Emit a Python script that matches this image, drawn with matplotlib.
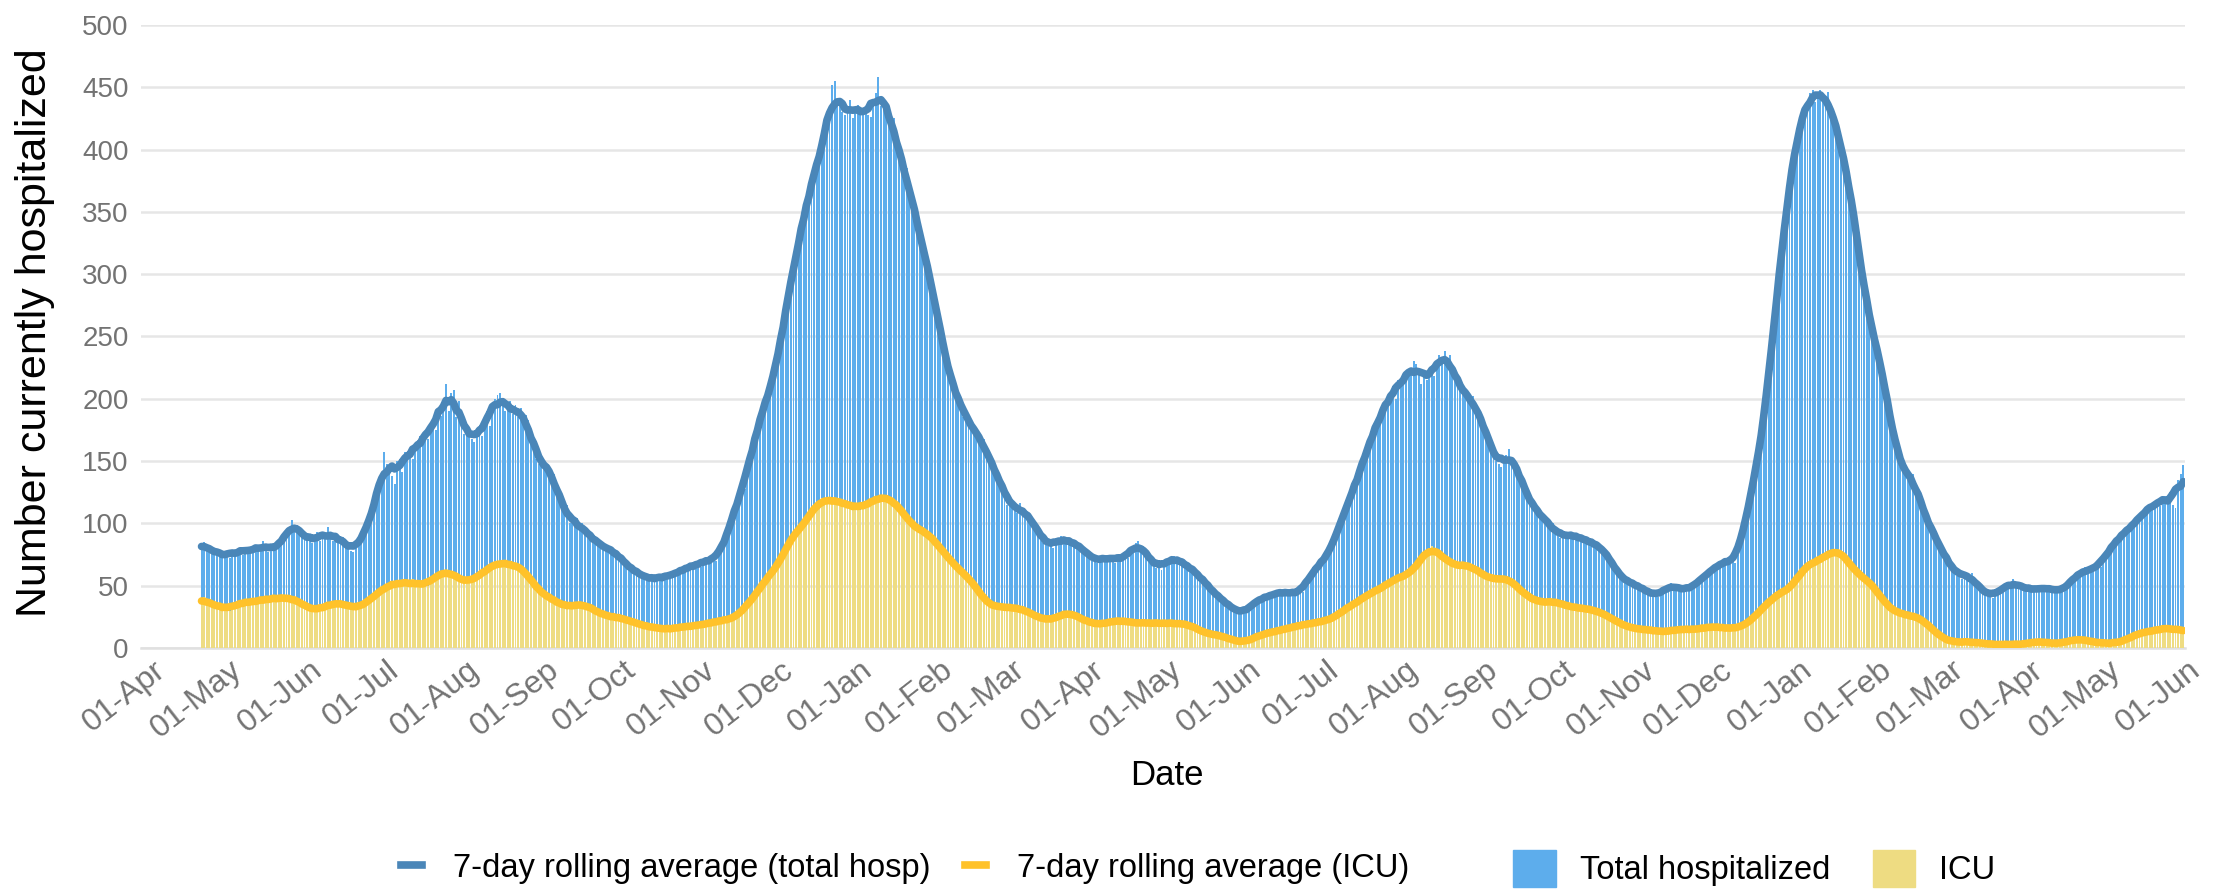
import matplotlib
matplotlib.use('Agg')
import matplotlib.pyplot as plt
import matplotlib.dates as mdates
import matplotlib.transforms as mtransforms
from matplotlib.lines import Line2D
from matplotlib.patches import Patch
import pandas as pd

# daily values, first day 2020-04-24
start_date = '2020-04-24'
total_hosp = [
    83, 85, 80, 78, 81, 76, 75, 74, 78, 77, 73, 72, 76, 79,
    77, 80, 75, 78, 81, 76, 80, 78, 82, 79, 86, 80, 77, 83,
    80, 79, 82, 84, 88, 92, 96, 103, 97, 99, 92, 94, 88, 86,
    88, 84, 90, 93, 86, 91, 89, 97, 88, 86, 92, 90, 85, 89,
    80, 84, 78, 77, 80, 86, 88, 90, 96, 100, 108, 112, 123, 128,
    140, 157, 148, 145, 138, 132, 150, 152, 141, 157, 155, 160, 152, 163,
    160, 170, 165, 172, 168, 180, 184, 175, 193, 186, 198, 212, 190, 205,
    207, 185, 198, 178, 172, 180, 170, 168, 165, 170, 176, 170, 185, 190,
    178, 195, 200, 203, 205, 196, 190, 192, 198, 188, 195, 185, 193, 180,
    187, 183, 170, 160, 152, 148, 152, 150, 143, 145, 138, 140, 125, 120,
    112, 110, 115, 100, 102, 98, 104, 95, 100, 92, 90, 93, 86, 88,
    84, 80, 85, 78, 82, 75, 80, 77, 74, 70, 72, 65, 67, 62,
    64, 58, 62, 57, 60, 55, 54, 58, 53, 56, 59, 55, 60, 57,
    55, 61, 58, 63, 60, 66, 62, 65, 63, 68, 66, 70, 65, 71,
    68, 72, 70, 74, 70, 76, 80, 82, 92, 96, 100, 112, 115, 125,
    130, 128, 145, 150, 160, 168, 180, 178, 195, 192, 210, 205, 220, 218,
    230, 250, 255, 275, 285, 290, 312, 310, 330, 328, 350, 355, 370, 368,
    385, 380, 398, 405, 410, 415, 430, 452, 455, 438, 435, 430, 428, 432,
    440, 425, 432, 436, 428, 430, 434, 428, 426, 438, 445, 458, 435, 436,
    438, 430, 420, 425, 402, 395, 392, 378, 385, 368, 360, 350, 340, 335,
    325, 315, 305, 295, 290, 280, 265, 255, 245, 235, 222, 215, 210, 200,
    205, 198, 185, 190, 178, 180, 172, 176, 170, 165, 168, 155, 150, 145,
    148, 140, 135, 130, 125, 115, 118, 112, 115, 108, 116, 110, 105, 108,
    107, 98, 100, 94, 90, 84, 86, 82, 85, 80, 88, 84, 90, 86,
    88, 84, 87, 82, 85, 80, 83, 76, 78, 73, 70, 74, 68, 72,
    70, 73, 71, 75, 72, 68, 74, 70, 73, 75, 72, 80, 78, 84,
    86, 80, 82, 72, 75, 68, 70, 64, 66, 63, 70, 68, 72, 70,
    74, 70, 72, 66, 70, 65, 66, 60, 63, 58, 60, 54, 52, 48,
    50, 44, 45, 40, 41, 36, 37, 35, 33, 30, 32, 28, 27, 30,
    29, 33, 35, 34, 40, 38, 42, 39, 42, 40, 44, 42, 45, 46,
    44, 47, 43, 42, 45, 43, 46, 47, 45, 52, 55, 57, 65, 63,
    68, 66, 72, 70, 80, 78, 88, 92, 95, 105, 106, 118, 115, 126,
    130, 135, 142, 150, 148, 162, 170, 165, 178, 185, 182, 195, 190, 200,
    205, 210, 200, 215, 212, 220, 215, 218, 225, 230, 228, 220, 212, 222,
    215, 220, 225, 218, 228, 235, 232, 238, 230, 235, 222, 218, 210, 212,
    205, 208, 200, 198, 202, 190, 188, 185, 182, 175, 165, 160, 158, 150,
    148, 145, 150, 155, 160, 148, 150, 148, 142, 130, 128, 120, 122, 112,
    115, 108, 110, 104, 102, 100, 98, 100, 94, 90, 88, 92, 89, 93,
    90, 92, 88, 90, 86, 89, 85, 88, 84, 85, 80, 84, 78, 80,
    75, 72, 70, 64, 60, 58, 55, 57, 52, 54, 50, 53, 48, 50,
    46, 48, 44, 45, 42, 43, 41, 45, 47, 46, 50, 52, 49, 48,
    50, 46, 45, 48, 47, 50, 52, 50, 55, 54, 58, 60, 62, 64,
    62, 68, 65, 70, 68, 72, 70, 72, 68, 75, 82, 95, 105, 115,
    125, 130, 140, 155, 170, 185, 198, 215, 240, 260, 282, 300, 320, 335,
    360, 368, 385, 400, 415, 425, 420, 430, 440, 445, 448, 438, 445, 448,
    442, 440, 446, 432, 425, 418, 415, 402, 395, 385, 370, 365, 345, 330,
    325, 305, 285, 270, 262, 258, 252, 240, 235, 218, 212, 195, 188, 175,
    168, 150, 145, 150, 140, 135, 138, 140, 128, 125, 115, 110, 108, 98,
    95, 92, 85, 88, 80, 75, 70, 68, 62, 65, 58, 62, 55, 60,
    58, 56, 60, 52, 50, 48, 45, 46, 42, 44, 40, 45, 43, 48,
    47, 50, 52, 50, 55, 50, 48, 52, 47, 50, 46, 48, 45, 49,
    46, 48, 50, 47, 49, 45, 48, 46, 44, 48, 47, 50, 52, 55,
    58, 60, 62, 58, 65, 60, 64, 62, 66, 68, 65, 72, 75, 80,
    78, 84, 86, 90, 88, 95, 92, 98, 96, 102, 100, 105, 108, 110,
    112, 110, 115, 118, 116, 114, 120, 122, 118, 125, 115, 112, 135, 140,
    147,
]
icu = [
    39, 41, 36, 35, 37, 33, 34, 32, 35, 31, 33, 30, 34, 33,
    36, 38, 34, 38, 37, 35, 39, 36, 40, 37, 38, 41, 39, 38,
    41, 39, 40, 42, 38, 41, 40, 40, 38, 39, 36, 37, 33, 34,
    30, 32, 31, 29, 33, 32, 34, 35, 33, 36, 37, 34, 36, 37,
    35, 33, 32, 34, 31, 33, 35, 34, 38, 36, 40, 42, 43, 46,
    45, 50, 48, 51, 49, 53, 52, 54, 50, 53, 51, 52, 55, 50,
    51, 53, 49, 52, 50, 55, 57, 56, 60, 58, 62, 59, 63, 60,
    59, 56, 55, 57, 52, 54, 53, 54, 57, 56, 60, 58, 63, 62,
    66, 64, 68, 70, 67, 69, 66, 68, 66, 69, 65, 66, 62, 64,
    62, 57, 56, 50, 49, 45, 46, 42, 44, 39, 40, 37, 38, 35,
    36, 33, 34, 32, 35, 33, 36, 34, 36, 35, 33, 32, 30, 31,
    30, 28, 25, 27, 24, 26, 25, 26, 23, 25, 22, 24, 21, 22,
    21, 19, 20, 18, 19, 16, 18, 16, 17, 15, 17, 16, 14, 16,
    14, 16, 17, 15, 18, 17, 16, 18, 17, 19, 17, 18, 20, 18,
    20, 19, 21, 20, 22, 21, 23, 21, 24, 22, 25, 23, 26, 28,
    29, 33, 34, 38, 39, 43, 44, 47, 52, 55, 56, 61, 60, 65,
    66, 69, 76, 79, 85, 87, 92, 92, 95, 97, 99, 102, 105, 110,
    112, 115, 117, 120, 116, 119, 118, 120, 117, 119, 116, 118, 114, 116,
    113, 115, 112, 114, 111, 116, 114, 117, 115, 119, 118, 122, 120, 123,
    119, 121, 118, 117, 115, 113, 110, 109, 104, 102, 97, 98, 95, 96,
    93, 95, 92, 90, 87, 85, 84, 81, 77, 76, 72, 71, 67, 66,
    65, 61, 60, 58, 56, 54, 51, 50, 45, 43, 38, 37, 34, 35,
    33, 34, 32, 34, 33, 32, 33, 31, 33, 32, 31, 32, 30, 28,
    29, 26, 27, 24, 25, 22, 23, 22, 24, 23, 25, 24, 27, 26,
    29, 28, 30, 26, 24, 25, 22, 24, 21, 22, 19, 20, 18, 19,
    19, 21, 20, 22, 20, 21, 23, 21, 23, 22, 20, 21, 19, 21,
    20, 21, 19, 20, 21, 20, 19, 21, 19, 20, 21, 19, 20, 20,
    19, 21, 20, 18, 19, 20, 18, 18, 16, 15, 14, 13, 12, 11,
    12, 11, 10, 11, 9, 10, 8, 8, 7, 6, 5, 6, 5, 4,
    5, 7, 8, 7, 9, 10, 11, 12, 11, 13, 12, 14, 13, 15,
    14, 16, 15, 17, 16, 18, 17, 19, 18, 20, 18, 21, 19, 21,
    20, 22, 21, 23, 22, 24, 25, 24, 28, 29, 31, 33, 32, 35,
    36, 35, 39, 40, 41, 43, 44, 45, 44, 47, 48, 50, 49, 52,
    53, 55, 54, 57, 58, 57, 60, 58, 60, 63, 66, 69, 72, 75,
    77, 80, 82, 76, 78, 74, 76, 72, 70, 68, 66, 68, 65, 67,
    67, 65, 66, 68, 64, 63, 61, 60, 58, 59, 56, 57, 54, 55,
    56, 54, 57, 55, 57, 53, 52, 49, 47, 46, 43, 42, 40, 41,
    38, 37, 36, 38, 36, 37, 38, 36, 38, 37, 35, 36, 33, 34,
    33, 32, 34, 31, 33, 32, 30, 32, 30, 31, 30, 29, 28, 26,
    27, 24, 25, 22, 21, 20, 18, 19, 17, 16, 17, 15, 16, 14,
    16, 14, 15, 14, 15, 13, 14, 12, 14, 13, 14, 13, 15, 14,
    16, 14, 15, 16, 14, 15, 16, 14, 16, 15, 17, 16, 18, 16,
    18, 16, 17, 16, 17, 15, 16, 15, 17, 16, 18, 17, 19, 21,
    21, 25, 26, 29, 31, 32, 35, 37, 39, 41, 43, 42, 45, 47,
    46, 49, 48, 52, 55, 59, 64, 66, 65, 68, 67, 70, 69, 72,
    72, 75, 74, 77, 76, 79, 78, 77, 74, 73, 68, 66, 62, 60,
    60, 57, 58, 54, 52, 50, 48, 47, 44, 39, 36, 33, 32, 30,
    31, 28, 29, 26, 27, 25, 27, 25, 26, 24, 24, 22, 20, 18,
    16, 14, 13, 10, 9, 7, 7, 6, 5, 4, 5, 6, 4, 5,
    5, 4, 6, 5, 4, 3, 4, 4, 3, 4, 3, 2, 3, 3,
    2, 3, 4, 3, 3, 2, 3, 3, 4, 3, 4, 5, 4, 5,
    5, 6, 4, 5, 4, 3, 4, 4, 3, 5, 4, 6, 5, 7,
    6, 8, 7, 6, 7, 5, 6, 5, 4, 5, 4, 3, 4, 5,
    4, 3, 4, 5, 6, 5, 7, 8, 9, 10, 11, 12, 13, 12,
    13, 14, 13, 15, 14, 15, 16, 15, 16, 17, 16, 14, 13, 14,
    15,
]
axis_start = '2020-04-01'

plt.rcParams['font.family'] = ['Liberation Sans', 'DejaVu Sans']

dates = pd.date_range(start_date, periods=len(total_hosp), freq='D')
df = pd.DataFrame({'total': total_hosp, 'icu': icu}, index=dates)
roll = df.rolling(7, center=True, min_periods=1).mean()

c_total = '#5DADEC'
c_icu = '#EEDC82'
c_total_line = '#4A86B8'
c_icu_line = '#FFC22A'
tick_grey = '#737373'

fig = plt.figure(figsize=(22.18, 8.91), dpi=100)
ax = fig.add_axes([0.0636, 0.2727, 0.9214, 0.6993])

ax.bar(df.index, df['total'], width=0.75, color=c_total, zorder=2)
ax.bar(df.index, df['icu'], width=0.75, color=c_icu, zorder=3)
ax.plot(roll.index, roll['total'], color=c_total_line, lw=5.5, zorder=4,
        solid_capstyle='round', solid_joinstyle='round')
ax.plot(roll.index, roll['icu'], color=c_icu_line, lw=5.5, zorder=5,
        solid_capstyle='round', solid_joinstyle='round')

ax.set_ylim(0, 500)
ax.set_yticks(range(0, 501, 50))
ax.set_xlim(pd.Timestamp(axis_start) - pd.Timedelta(hours=12),
            dates[-1] + pd.Timedelta(hours=14))
ax.xaxis.set_major_locator(mdates.MonthLocator(bymonthday=1))
ax.xaxis.set_major_formatter(mdates.DateFormatter('%d-%b'))

ax.grid(axis='y', color='#E6E6E6', lw=1.8, zorder=0)
ax.set_axisbelow(True)
for s in ['top', 'right', 'left']:
    ax.spines[s].set_visible(False)
ax.spines['bottom'].set_color('#E0E0E0')
ax.spines['bottom'].set_linewidth(1.8)
ax.tick_params(axis='both', length=0, colors=tick_grey)
ax.tick_params(axis='y', labelsize=20, pad=9)
ax.tick_params(axis='x', labelsize=23, pad=5)
shift = mtransforms.ScaledTranslation(10 / 100, 0, fig.dpi_scale_trans)
for lbl in ax.get_xticklabels():
    lbl.set_rotation(38)
    lbl.set_ha('right')
    lbl.set_va('top')
    lbl.set_rotation_mode('anchor')
    lbl.set_transform(lbl.get_transform() + shift)

ax.set_ylabel('Number currently hospitalized', fontsize=31, color='black',
              va='center', ha='center')
ax.yaxis.set_label_coords(-0.0518, 0.5066)
ax.set_xlabel('Date', fontsize=25, color='black', va='center', ha='center')
ax.xaxis.set_label_coords(0.502, -0.204)

line_handles = [Line2D([0], [0], color=c_total_line, lw=5.5),
                Line2D([0], [0], color=c_icu_line, lw=5.5)]
leg1 = fig.legend(line_handles,
                  ['7-day rolling average (total hosp)',
                   '7-day rolling average (ICU)'],
                  loc='center', bbox_to_anchor=(0.408, 0.0254), ncol=2,
                  frameon=False, fontsize=23.5, handlelength=0.65,
                  handletextpad=0.95, columnspacing=1.05)
bar_handles = [Patch(color=c_total), Patch(color=c_icu)]
leg2 = fig.legend(bar_handles, ['Total hospitalized', 'ICU'],
                  loc='center', bbox_to_anchor=(0.791, 0.0254), ncol=2,
                  frameon=False, fontsize=23.5, handlelength=1.3,
                  handleheight=1.4, handletextpad=0.74, columnspacing=1.3)

fig.savefig('out.png', dpi=100)
